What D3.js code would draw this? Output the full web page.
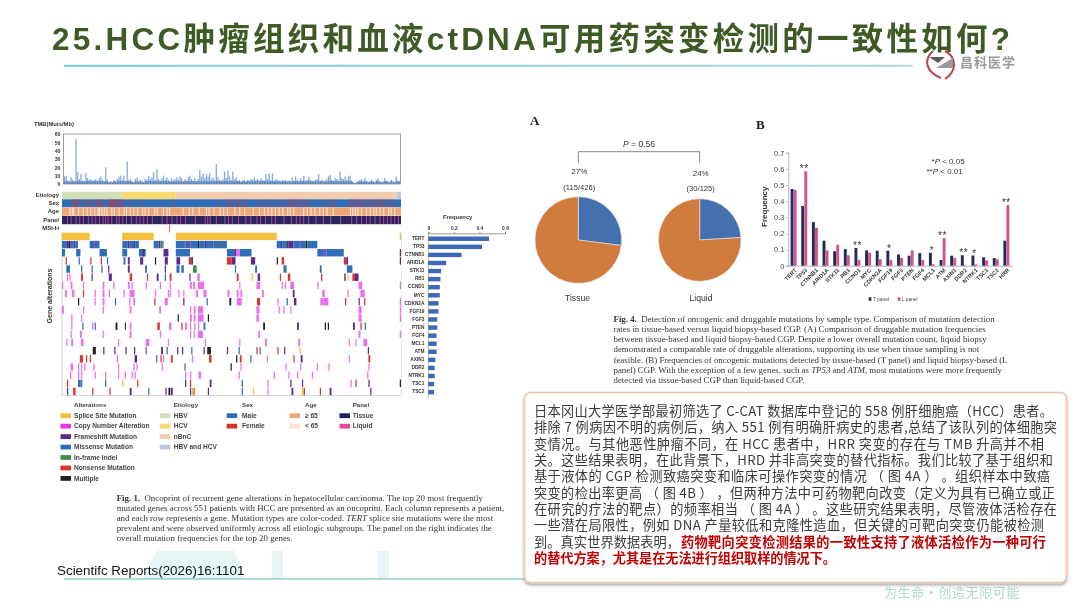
<!DOCTYPE html>
<html><head><meta charset="utf-8">
<script src="https://cdn.jsdelivr.net/npm/d3@7"></script>
<style>
html,body{margin:0;padding:0;background:#fff}
svg{display:block}
.soft{filter:blur(.45px)}
.soft2{filter:blur(.25px)}
</style></head><body>
<svg id="c" width="1080" height="608"></svg>
<script>
// ---------- text ----------
const titleText = "25.HCC肿瘤组织和血液ctDNA可用药突变检测的一致性如何?";
const logoText = "昌科医学";
const sloganText = "为生命·创造无限可能";
const citationText = "Scientifc Reports(2026)16:1101";
const fig1Caption = [
 ["Fig. 1.","  Oncoprint of recurrent gene alterations in hepatocellular carcinoma. The top 20 most frequently"],
 ["","mutated genes across 551 patients with HCC are presented as an oncoprint. Each column represents a patient,"],
 ["","and each row represents a gene. Mutation types are color-coded. TERT splice site mutations were the most"],
 ["","prevalent and were observed uniformly across all etiologic subgroups. The panel on the right indicates the"],
 ["","overall mutation frequencies for the top 20 genes."]];
const fig4Caption = [
 ["Fig. 4.","  Detection of oncogenic and druggable mutations by sample type. Comparison of mutation detection"],
 ["","rates in tissue-based versus liquid biopsy-based CGP. (A) Comparison of druggable mutation frequencies"],
 ["","between tissue-based and liquid biopsy-based CGP. Despite a lower overall mutation count, liquid biopsy"],
 ["","demonstrated a comparable rate of druggable alterations, supporting its use when tissue sampling is not"],
 ["","feasible. (B) Frequencies of oncogenic mutations detected by tissue-based (T panel) and liquid biopsy-based (L"],
 ["","panel) CGP. With the exception of a few genes, such as TP53 and ATM, most mutations were more frequently"],
 ["","detected via tissue-based CGP than liquid-based CGP."]];
const bodyLines = [
 "日本冈山大学医学部最初筛选了 C-CAT 数据库中登记的 558 例肝细胞癌（HCC）患者。",
 "排除 7 例病因不明的病例后，纳入 551 例有明确肝病史的患者,总结了该队列的体细胞突",
 "变情况。与其他恶性肿瘤不同，在 HCC 患者中，HRR 突变的存在与 TMB 升高并不相",
 "关。这些结果表明，在此背景下，HRD 并非高突变的替代指标。我们比较了基于组织和",
 "基于液体的 CGP 检测致癌突变和临床可操作突变的情况 （ 图 4A ） 。组织样本中致癌",
 "突变的检出率更高 （ 图 4B ） ，但两种方法中可药物靶向改变（定义为具有已确立或正",
 "在研究的疗法的靶点）的频率相当 （ 图 4A ） 。这些研究结果表明，尽管液体活检存在",
 "一些潜在局限性，例如 DNA 产量较低和克隆性造血，但关键的可靶向突变仍能被检测"];
const bodyLine9Plain = "到。真实世界数据表明，";
const bodyLine9Red = "药物靶向突变检测结果的一致性支持了液体活检作为一种可行";
const bodyLine10Red = "的替代方案，尤其是在无法进行组织取样的情况下。";

// ---------- oncoprint data ----------
const genes = ["TERT","TP53","CTNNB1","ARID1A","STK11","RB1","CCND1","MYC","CDKN2A","FGF19","FGF3","PTEN","FGF4","MCL1","ATM","AXIN1","DDR2","NTRK1","TSC1","TSC2"];
const geneFreq = [.475,.42,.26,.14,.1,.095,.09,.09,.08,.08,.07,.07,.065,.065,.065,.055,.05,.05,.045,.045];
const freqTicks = [0,.2,.4,.6];
const alterationNames = {S:"Splice Site Mutation",C:"Copy Number Alteration",F:"Frameshift Mutation",M:"Missense Mutation",I:"In-frame Indel",N:"Nonsense Mutation",X:"Multiple"};
const etiologyRuns = [[0,97,"HBV"],[97,88,"HCV"],[185,360,"nBnC"],[545,6,"HBV and HCV"]];
const tmbTicks = [0,10,20,30,40,50,60];
// TMB read roughly every 2.4 patients
const tmbValues = [9,10,4,3,8,5,3,54,14,6,12,4,3,13,7,5,6,4,5,6,4,7,9,5,3,20,5,2,3,2,5,3,6,9,10,5,10,4,27,5,6,3,2,6,8,3,5,3,2,6,5,9,6,8,14,5,18,6,4,7,10,5,8,5,3,7,4,6,8,5,9,7,3,6,4,8,10,6,4,7,3,6,17,9,13,7,12,9,13,6,8,5,24,8,5,4,6,15,7,16,9,5,15,6,8,4,5,3,4,5,3,5,4,6,5,8,5,6,4,7,5,4,12,6,13,5,13,4,6,5,4,3,5,4,5,3,4,3,8,4,9,5,3,7,4,10,4,5,9,5,4,3,5,6,12,4,5,3,4,6,9,11,5,4,7,6,4,15,7,6,9,5,9,10,4,2,1,2,3,5,6,3,7,4,2,3,5,3,2,5,7,3,2,3,7,4,3,2,5,3,2,9,4,3];
const femaleIdx = [16,18,22,24,28,36,40,47,52,56,60,62,66,75,78,80,82,84,86,90,92,94,98,110,128,180,255,268,272,276,284,288,292,298,320,330,340,352,360,368,372,376,380,384,390,395,402,425,436,440,468,470,474,478,482,484,490,496,502,505,510,514,516,520,526,530,536];
const ageYoungIdx = [12,16,18,26,34,40,46,52,58,60,64,68,72,80,84,92,100,104,110,116,122,130,134,140,150,154,164,170,174,196,206,212,222,234,238,246,256,262,268,280,288,296,310,320,328,334,340,346,352,358,366,370,376,392,398,404,410,418,424,430,440,468,472,476,480,486,494,500,506,510,516,522,530,534,540];
const liquidIdx = [8,14,22,28,34,42,48,54,60,66,70,74,80,88,92,98,104,112,120,126,132,138,146,162,170,178,186,192,200,216,232,236,240,250,264,270,276,286,298,306,316,322,330,340,346,360,372,380,386,392,400,412,424,436,452,470,478,486,494,500,508,516,522,528,534,540,546];
const msiIdx = [174];
// [first patient, patient count, alteration]
const rowTERT = [[0,45,"S"],[98,51,"S"],[185,164,"S"],[549,2,"S"]];
const rowTP53 = [[0,8,"M"],[8,3,"F"],[11,3,"X"],[14,5,"M"],[19,3,"F"],[22,4,"M"],[45,8,"M"],[53,2,"F"],[55,6,"M"],[98,9,"M"],[107,3,"F"],[110,7,"M"],[117,2,"F"],[119,6,"M"],[149,8,"M"],[157,3,"F"],[160,3,"I"],[163,2,"M"],[185,14,"M"],[199,2,"F"],[201,8,"M"],[209,2,"F"],[211,10,"M"],[221,2,"X"],[223,9,"M"],[232,2,"F"],[234,10,"M"],[244,2,"F"],[246,10,"M"],[256,2,"X"],[258,10,"M"],[349,7,"M"],[356,2,"F"],[358,8,"M"],[366,2,"X"],[368,8,"F"],[376,10,"M"],[386,2,"F"],[388,8,"M"],[396,3,"X"],[399,16,"M"]];
const rowCTNNB1 = [[0,5,"M"],[23,7,"M"],[61,12,"M"],[98,8,"M"],[125,11,"M"],[131,3,"F"],[165,8,"F"],[185,23,"M"],[268,12,"M"],[280,3,"F"],[283,6,"C"],[289,19,"M"],[415,15,"M"],[430,28,"M"],[425,2,"C"],[549,2,"F"]];
const rowARID1A = [[6,2,"N"],[27,2,"M"],[46,2,"N"],[63,2,"N"],[73,2,"M"],[100,3,"M"],[107,3,"F"],[127,5,"F"],[151,2,"X"],[167,5,"F"],[186,6,"F"],[206,4,"N"],[210,3,"F"],[268,8,"N"],[276,6,"F"],[307,7,"F"],[349,2,"X"],[357,4,"N"],[458,4,"N"],[462,3,"F"],[549,2,"F"]];
const rowSTK11 = [[7,6,"M"],[31,2,"M"],[48,2,"M"],[64,2,"M"],[75,2,"F"],[107,3,"F"],[135,3,"M"],[167,2,"F"],[186,5,"M"],[194,4,"M"],[213,6,"I"],[281,2,"M"],[314,3,"M"],[360,5,"M"],[419,3,"M"],[463,9,"M"]];
const rowRB1 = [[8,2,"C"],[12,2,"C"],[31,3,"N"],[48,2,"F"],[76,5,"F"],[110,4,"N"],[138,2,"N"],[154,3,"F"],[167,2,"M"],[175,3,"N"],[207,2,"F"],[220,4,"C"],[284,3,"N"],[308,2,"S"],[318,4,"F"],[354,2,"N"],[367,4,"N"],[421,2,"N"],[459,2,"X"],[464,2,"S"],[472,4,"N"],[476,6,"F"]];
const rowCCND1 = [[0,2,"C"],[14,3,"C"],[34,2,"C"],[66,3,"C"],[83,2,"C"],[107,3,"C"],[113,2,"C"],[136,2,"C"],[159,2,"C"],[175,2,"C"],[208,3,"C"],[213,3,"C"],[221,10,"C"],[288,2,"C"],[316,6,"C"],[357,2,"C"],[362,2,"C"],[371,6,"C"],[415,2,"C"],[482,6,"C"],[549,2,"C"]];
const rowMYC = [[5,3,"C"],[16,4,"C"],[34,2,"N"],[53,2,"C"],[66,3,"C"],[76,2,"C"],[100,2,"C"],[110,8,"C"],[151,2,"C"],[172,2,"C"],[175,2,"C"],[189,2,"C"],[197,2,"C"],[218,3,"C"],[230,5,"C"],[269,3,"C"],[284,3,"C"],[290,3,"C"],[325,3,"C"],[375,3,"F"],[423,4,"C"],[464,2,"C"],[485,7,"C"]];
const rowCDKN2A = [[26,2,"X"],[53,2,"C"],[66,3,"C"],[86,2,"M"],[109,2,"C"],[116,3,"C"],[150,2,"N"],[167,5,"C"],[197,2,"F"],[235,2,"M"],[272,3,"X"],[284,8,"C"],[317,5,"N"],[350,2,"C"],[365,2,"M"],[377,4,"F"],[420,5,"C"],[425,8,"C"],[460,2,"N"],[482,2,"F"],[491,2,"N"],[549,2,"C"]];
const rowFGF19 = [[0,3,"C"],[34,2,"C"],[66,2,"C"],[110,3,"C"],[158,3,"C"],[208,2,"C"],[214,3,"C"],[221,8,"C"],[316,5,"C"],[352,2,"C"],[360,2,"C"],[371,2,"C"],[482,5,"C"],[549,2,"C"]];
const rowFGF3 = [[15,2,"C"],[31,2,"C"],[188,2,"X"],[208,3,"C"],[214,3,"C"],[221,9,"C"],[237,2,"X"],[316,4,"C"],[482,5,"C"],[549,2,"C"]];
const rowPTEN = [[15,2,"C"],[33,2,"M"],[49,2,"C"],[53,2,"M"],[87,3,"X"],[102,2,"F"],[110,3,"C"],[155,4,"N"],[174,4,"C"],[194,2,"N"],[200,3,"C"],[208,2,"C"],[215,2,"C"],[221,2,"C"],[230,3,"M"],[327,3,"X"],[382,3,"F"],[427,2,"X"],[432,2,"X"],[473,3,"F"],[485,2,"N"],[492,2,"M"]];
const rowFGF4 = [[14,2,"C"],[29,3,"C"],[66,2,"C"],[110,3,"C"],[159,2,"C"],[208,2,"C"],[214,2,"C"],[221,8,"C"],[319,3,"C"],[482,3,"C"],[549,2,"C"]];
const rowMCL1 = [[7,2,"C"],[15,3,"C"],[31,4,"C"],[91,2,"C"],[136,6,"C"],[172,2,"C"],[232,2,"C"],[288,2,"C"],[330,3,"C"],[384,3,"C"],[466,2,"C"],[477,2,"C"],[490,6,"C"]];
const rowATM = [[50,5,"X"],[67,2,"F"],[85,2,"F"],[103,2,"F"],[117,2,"F"],[136,1,"F"],[161,3,"F"],[170,2,"M"],[187,2,"F"],[195,2,"F"],[210,2,"M"],[230,2,"F"],[236,6,"X"],[268,2,"F"],[287,2,"M"],[316,2,"N"],[321,2,"M"],[350,2,"N"],[361,2,"F"],[386,2,"S"],[497,2,"F"]];
const rowAXIN1 = [[29,5,"N"],[39,2,"N"],[45,2,"N"],[89,2,"C"],[118,4,"F"],[153,2,"M"],[160,2,"N"],[164,2,"C"],[177,3,"N"],[211,2,"C"],[239,4,"N"],[283,2,"X"],[289,3,"N"],[306,2,"M"],[333,2,"C"],[376,2,"N"],[388,3,"F"],[466,2,"C"],[498,3,"N"]];
const rowDDR2 = [[14,4,"C"],[26,2,"C"],[31,2,"C"],[36,2,"C"],[51,2,"C"],[91,2,"C"],[116,2,"C"],[121,2,"C"],[162,2,"C"],[199,2,"M"],[274,2,"X"],[290,2,"C"],[363,2,"C"],[387,2,"C"],[414,2,"C"],[433,2,"C"],[498,2,"C"]];
const rowNTRK1 = [[13,2,"C"],[26,2,"C"],[31,2,"C"],[53,2,"C"],[70,2,"C"],[91,2,"C"],[102,2,"C"],[113,2,"C"],[118,2,"C"],[200,2,"C"],[208,2,"C"],[222,4,"C"],[287,2,"C"],[344,2,"C"],[368,2,"C"],[382,2,"C"],[406,2,"C"],[496,2,"C"]];
const rowTSC1 = [[8,2,"N"],[26,4,"M"],[30,3,"M"],[70,2,"M"],[98,2,"S"],[122,2,"N"],[200,2,"F"],[208,2,"N"],[240,3,"F"],[292,2,"M"],[334,2,"C"],[371,2,"F"],[390,2,"F"],[469,2,"C"],[477,2,"N"],[498,2,"F"],[549,2,"X"]];
const rowTSC2 = [[8,2,"F"],[18,4,"N"],[49,2,"N"],[77,2,"N"],[110,3,"F"],[140,2,"I"],[168,2,"F"],[173,3,"X"],[177,3,"F"],[208,2,"F"],[211,3,"S"],[214,1,"N"],[237,2,"F"],[292,2,"M"],[310,2,"S"],[334,2,"C"],[373,3,"F"],[390,3,"S"],[393,2,"N"],[419,2,"N"],[435,3,"F"],[501,2,"F"]];
const geneRows = [rowTERT,rowTP53,rowCTNNB1,rowARID1A,rowSTK11,rowRB1,rowCCND1,rowMYC,rowCDKN2A,rowFGF19,rowFGF3,rowPTEN,rowFGF4,rowMCL1,rowATM,rowAXIN1,rowDDR2,rowNTRK1,rowTSC1,rowTSC2];

// ---------- pie data ----------
const pieNames = ["Tissue","Liquid"];
const piePercent = ["27%","24%"];
const pieCounts = ["(115/426)","(30/125)"];
const pieHits = [115,30];
const pieTotals = [426,125];

// ---------- bar data ----------
const barGenes = ["TERT","TP53","CTNNB1","ARID1A","STK11","RB1","CCND1","MYC","CDKN2A","FGF19","FGF3","PTEN","FGF4","MCL1","ATM","AXIN1","DDR2","NTRK1","TSC1","TSC2","HRR"];
const tPanel = [.475,.37,.27,.155,.09,.103,.11,.095,.093,.093,.07,.062,.078,.08,.035,.062,.065,.063,.052,.047,.155];
const lPanel = [.47,.585,.235,.095,.13,.065,.035,.08,.04,.035,.048,.095,.035,.008,.17,.048,.002,.008,.033,.04,.375];
const barStars = ["","**","","","","","**","","","*","","","","*","**","","**","*","","","**"];
const barTicks = [0,.1,.2,.3,.4,.5,.6,.7];

// ---------- palette ----------
const altColor = {S:"#f3bf3c",C:"#e236ea",F:"#5b2a8e",M:"#2f6eb9",I:"#3f8f50",N:"#d9352c",X:"#222222"};
const etioColor = {"HBV":"#cfe0bb","HCV":"#f8dc72","nBnC":"#f3cdb0","HBV and HCV":"#bcc5e6"};

const svg = d3.select("#c");
const SANS = "'Liberation Sans',Arial,sans-serif", SERIF = "'Liberation Serif',serif", CJK = "'Noto Sans CJK SC',sans-serif";
const txt = (g,x,y,s,size,o={}) => g.append("text").attr("x",x).attr("y",y).text(s)
  .attr("font-size",size).attr("font-family",o.f||SANS).attr("font-weight",o.w||"normal")
  .attr("fill",o.c||"#333").attr("text-anchor",o.a||"start").attr("dominant-baseline",o.b||"auto");

// ---------- backdrop ----------
const defs = svg.append("defs");
const grad = defs.append("linearGradient").attr("id","rule");
grad.append("stop").attr("offset","0").attr("stop-color","#7fcbd6");
grad.append("stop").attr("offset","1").attr("stop-color","#b4dcd8");
const sh = defs.append("filter").attr("id","shadow").attr("x","-5%").attr("y","-5%").attr("width","110%").attr("height","112%");
sh.append("feDropShadow").attr("dx",0).attr("dy",2).attr("stdDeviation",1.8).attr("flood-color","#000").attr("flood-opacity",.35);

const wm = svg.append("g").attr("fill","#e6f5f5");
wm.append("path").attr("d","M143,579L157,551H235L245,579Z");
wm.append("rect").attr("x",272).attr("y",551).attr("width",11).attr("height",28);
wm.append("rect").attr("x",378).attr("y",551).attr("width",11).attr("height",28);
svg.append("rect").attr("x",64).attr("y",578.2).attr("width",470).attr("height",1.5).attr("fill","#8fd0c8");

// ---------- title ----------
const hdr = svg.append("g").attr("class","soft");
txt(hdr,52,50,titleText,31.5,{f:"'Liberation Sans','Noto Sans CJK SC',sans-serif",w:700,c:"#3e5b26"}).attr("textLength",958).attr("lengthAdjust","spacing");
hdr.append("rect").attr("x",64).attr("y",64.7).attr("width",849).attr("height",2.2).attr("fill","url(#rule)");
const logo = hdr.append("g");
logo.append("path").attr("d","M933,51C923,60 926,72 941,78").attr("fill","none").attr("stroke","#b8454a").attr("stroke-width",2);
logo.append("path").attr("d","M945,51C958,58 956,72 945,79").attr("fill","none").attr("stroke","#b8454a").attr("stroke-width",2);
logo.append("path").attr("d","M929,57H945L938,63Z").attr("fill","#5c5c5c");
logo.append("path").attr("d","M953,58V68H936Z").attr("fill","#9a9a9a");
txt(hdr,960,67,logoText,13,{f:CJK,w:700,c:"#9a9a9a"}).attr("letter-spacing",1);

// ---------- Fig 1 top strips ----------
const fig = svg.append("g").attr("class","soft");
const opLeft = 62, opRight = 401;
const patient = d3.scaleLinear().domain([0,551]).range([opLeft,opRight]);
const tmbY = d3.scaleLinear().domain([0,60]).range([184,134]);
const tmbX = d3.scaleBand().domain(d3.range(tmbValues.length)).range([63.5,400.5]).padding(.18);
txt(fig,34,125.8,"TMB(Muts/Mb)",5.8,{w:700,c:"#333"});
fig.append("g").selectAll("rect").data(tmbValues).join("rect")
  .attr("x",(d,i)=>tmbX(i)).attr("width",tmbX.bandwidth())
  .attr("y",d=>tmbY(d)).attr("height",d=>184-tmbY(d)).attr("fill","#8aaedb");
fig.append("g").selectAll("rect").data(tmbValues).join("rect")
  .attr("x",(d,i)=>tmbX(i)).attr("width",tmbX.bandwidth())
  .attr("y",d=>tmbY(Math.min(d,3.5))).attr("height",d=>184-tmbY(Math.min(d,3.5))).attr("fill","#5a88c6");
fig.append("rect").attr("x",63.5).attr("y",134).attr("width",337).attr("height",50).attr("fill","none").attr("stroke","#777").attr("stroke-width",.7);
const tmbAxis = fig.append("g").attr("transform","translate(63.5,0)").call(d3.axisLeft(tmbY).tickValues(tmbTicks).tickSize(0).tickPadding(3));
tmbAxis.select(".domain").remove();
tmbAxis.selectAll("text").attr("font-size",5.2).attr("font-weight",700).attr("font-family",SANS).attr("fill","#333");

fig.append("g").selectAll("rect").data(etiologyRuns).join("rect")
  .attr("x",d=>patient(d[0])).attr("width",d=>patient(d[1])-opLeft).attr("y",191.8).attr("height",7.4).attr("fill",d=>etioColor[d[2]]);
fig.append("rect").attr("x",opLeft).attr("y",199.3).attr("width",opRight-opLeft).attr("height",8).attr("fill","#2f6db6");
fig.append("g").selectAll("rect").data(femaleIdx).join("rect")
  .attr("x",d=>patient(d)).attr("width",1).attr("y",199.3).attr("height",8).attr("fill","#c83640").attr("opacity",.72);
fig.append("rect").attr("x",opLeft).attr("y",207.5).attr("width",opRight-opLeft).attr("height",8.2).attr("fill","#eea878");
fig.append("g").selectAll("rect").data(ageYoungIdx).join("rect")
  .attr("x",d=>patient(d)).attr("width",1.1).attr("y",207.5).attr("height",8.2).attr("fill","#fbe6da");
fig.append("rect").attr("x",opLeft).attr("y",216).attr("width",opRight-opLeft).attr("height",8.2).attr("fill","#27275f");
fig.append("g").selectAll("rect").data(liquidIdx).join("rect")
  .attr("x",d=>patient(d)).attr("width",1).attr("y",216).attr("height",8.2).attr("fill","#e0469e").attr("opacity",.8);
fig.append("g").selectAll("rect").data(msiIdx).join("rect")
  .attr("x",d=>patient(d)).attr("width",.8).attr("y",224.4).attr("height",8).attr("fill","#d9352c");
[["Etiology",195.5],["Sex",203.6],["Age",211.6],["Panel",220],["MSI-H",228.3]].forEach(d=>
  txt(fig,59,d[1],d[0],5.9,{w:700,a:"end",b:"middle",c:"#333"}));

// ---------- oncoprint ----------
const rowY = d3.scaleBand().domain(genes).range([232.4,395.5]).paddingInner(.02);
fig.append("line").attr("x1",opLeft).attr("x2",opLeft).attr("y1",232).attr("y2",395.5).attr("stroke","#ccc").attr("stroke-width",.8);
fig.append("line").attr("x1",opLeft).attr("x2",opRight).attr("y1",395.5).attr("y2",395.5).attr("stroke","#ccc").attr("stroke-width",.8);
fig.append("line").attr("x1",opRight+.5).attr("x2",opRight+.5).attr("y1",232).attr("y2",395.5).attr("stroke","#e2e2e2").attr("stroke-width",.8);
geneRows.forEach((row,i)=>{
  fig.append("g").selectAll("rect").data(row).join("rect")
    .attr("x",d=>patient(d[0])).attr("width",d=>Math.max(1,patient(d[1])-opLeft))
    .attr("y",rowY(genes[i])+.3).attr("height",rowY.bandwidth()-.6)
    .attr("fill",d=>altColor[d[2]]).attr("opacity",d=>d[2]==="C"?.72:1);
});
txt(fig,0,0,"Gene alterations",7,{w:700,a:"middle",c:"#333"}).attr("transform","translate(51.5,296) rotate(-90)");

// ---------- frequency panel ----------
const fx = d3.scaleLinear().domain([0,.6]).range([428.3,505]);
const fy = d3.scaleBand().domain(genes).range([232.9,398]).padding(.45);
txt(fig,457.7,218.5,"Frequency",5.8,{w:700,a:"middle"});
const fAxis = fig.append("g").attr("transform","translate(0,233.3)").call(d3.axisTop(fx).tickValues(freqTicks).tickFormat(d=>d).tickSize(1.5).tickPadding(2));
fAxis.selectAll("text").attr("font-size",4.9).attr("font-weight",700).attr("font-family",SANS).attr("fill","#333");
fAxis.selectAll("line,path").attr("stroke","#555").attr("stroke-width",.6);
fig.append("g").selectAll("rect").data(genes).join("rect")
  .attr("x",fx(0)).attr("y",d=>fy(d)).attr("height",fy.bandwidth()).attr("width",(d,i)=>fx(geneFreq[i])-fx(0)).attr("fill","#3f68b8");
fig.append("line").attr("x1",fx(0)).attr("x2",fx(0)).attr("y1",233.3).attr("y2",398).attr("stroke","#666").attr("stroke-width",.5);
fig.append("g").selectAll("text").data(genes).join("text").attr("x",424.5).attr("y",d=>fy(d)+fy.bandwidth()/2)
  .text(d=>d).attr("text-anchor","end").attr("dominant-baseline","middle").attr("font-size",4.8).attr("font-weight",700).attr("font-family",SANS).attr("fill","#333");

// ---------- legends ----------
const lg = (x0,tx,title,items) => {
  txt(fig,tx,407.2,title,6.2,{w:700,c:"#444"});
  items.forEach((it,i)=>{
    const y = 415.7+i*10.45;
    fig.append("rect").attr("x",x0).attr("y",y-2.4).attr("width",10.5).attr("height",4.8).attr("fill",it[1]);
    txt(fig,tx,y+2.2,it[0],6.6,{w:700,c:"#444"});
  });
};
lg(60.5,74,"Alterations",["S","C","F","M","I","N","X"].map(k=>[alterationNames[k],altColor[k]]));
lg(159.7,173.7,"Etiology",Object.keys(etioColor).map(k=>[k,etioColor[k]]));
lg(226.7,242,"Sex",[["Male","#2f6db6"],["Female","#d2322c"]]);
lg(289.5,305,"Age",[["≥ 65","#eea878"],["< 65","#f8e1d6"]]);
lg(339.5,352.7,"Panel",[["Tissue","#1f1f66"],["Liquid","#e8479d"]]);

// captions
const caption = (x,y0,lh,size,lines,ital) => lines.forEach((l,i)=>{
  const t = fig.append("text").attr("x",x).attr("y",y0+i*lh).attr("font-family",SERIF).attr("font-size",size).attr("fill","#333").style("white-space","pre");
  if(l[0]) t.append("tspan").attr("font-weight",700).text(l[0]);
  l[1].split(new RegExp("\\b("+ital.join("|")+")\\b")).forEach(p=>t.append("tspan").text(p).attr("font-style",ital.includes(p)?"italic":"normal"));
});
caption(116.7,500.5,10,8.85,fig1Caption,["TERT"]);
caption(613.5,321.5,10.3,8.85,fig4Caption,["TP53","ATM"]);

// ---------- Panel A pies ----------
const panelA = svg.append("g").attr("class","soft2");
txt(panelA,530,125,"A",13,{f:SERIF,w:700,c:"#222"});
txt(panelA,639,147,"",8.5,{a:"middle"}).call(t=>{t.append("tspan").attr("font-style","italic").text("P");t.append("tspan").text(" = 0.56");});
const pieCx = d3.scaleOrdinal().domain(pieNames).range([578.3,699.7]);
const pieR = d3.scaleOrdinal().domain(pieNames).range([43.3,41.3]);
panelA.append("path").attr("d",`M${pieCx("Tissue")},163V151.7H${pieCx("Liquid")}V163`).attr("fill","none").attr("stroke","#555").attr("stroke-width",.7);
const pieGen = d3.pie().sort(null);
pieNames.forEach((n,i)=>{
  const g = panelA.append("g").attr("transform",`translate(${pieCx(n)},240)`);
  g.selectAll("path").data(pieGen([pieHits[i],pieTotals[i]-pieHits[i]])).join("path")
    .attr("d",d3.arc().innerRadius(0).outerRadius(pieR(n)))
    .attr("fill",(d,j)=>j?"#d07c3f":"#4470af").attr("stroke","#e8e8e8").attr("stroke-width",.6);
  txt(panelA,pieCx(n)+1,[174,176][i],piePercent[i],8,{a:"middle"});
  txt(panelA,pieCx(n)+1,[189.5,191][i],pieCounts[i],7.6,{a:"middle"});
  txt(panelA,[577.5,701][i],301,n,8.6,{a:"middle"});
});

// ---------- Panel B bars ----------
const panelB = svg.append("g").attr("class","soft2");
txt(panelB,756,129,"B",13,{f:SERIF,w:700,c:"#222"});
const bx = d3.scaleBand().domain(barGenes).range([788.3,1011.7]);
const by = d3.scaleLinear().domain([0,.7]).range([265.7,152.7]);
const inner = d3.scaleBand().domain(["T","L"]).range([bx.bandwidth()*.22,bx.bandwidth()*.78]).paddingInner(.05);
const bAxY = panelB.append("g").attr("transform","translate(788.3,0)").call(d3.axisLeft(by).tickValues(barTicks).tickFormat(d=>d).tickSize(2).tickPadding(2));
bAxY.selectAll("text").attr("font-size",7.4).attr("font-family",SANS).attr("fill","#444");
bAxY.selectAll("line,path").attr("stroke","#999").attr("stroke-width",.7);
const bAxX = panelB.append("g").attr("transform","translate(0,265.7)").call(d3.axisBottom(bx).tickSize(1.5).tickPadding(1.5));
bAxX.selectAll("line,path").attr("stroke","#999").attr("stroke-width",.7);
bAxX.selectAll("text").attr("font-size",5.6).attr("font-weight",700).attr("font-family",SANS).attr("fill","#333")
  .attr("text-anchor","end").attr("dx","-1").attr("dy","3").attr("transform","rotate(-45)");
panelB.append("g").selectAll("rect").data(barGenes).join("rect")
  .attr("x",d=>bx(d)+inner("T")).attr("width",inner.bandwidth()).attr("y",(d,i)=>by(tPanel[i])).attr("height",(d,i)=>by(0)-by(tPanel[i])).attr("fill","#232b5c");
panelB.append("g").selectAll("rect").data(barGenes).join("rect")
  .attr("x",d=>bx(d)+inner("L")).attr("width",inner.bandwidth()).attr("y",(d,i)=>by(lPanel[i])).attr("height",(d,i)=>by(0)-by(lPanel[i])).attr("fill","#d2528f");
panelB.append("g").selectAll("text").data(barGenes).join("text")
  .attr("x",d=>bx(d)+bx.bandwidth()/2).attr("y",(d,i)=>by(Math.max(tPanel[i],lPanel[i]))-1).text((d,i)=>barStars[i])
  .attr("text-anchor","middle").attr("font-size",10).attr("font-family",SANS).attr("fill","#333").attr("letter-spacing",.6)
  .attr("dy",2);
txt(panelB,0,0,"Frequency",8,{w:700,a:"middle",c:"#333"}).attr("transform","translate(767,206.7) rotate(-90)");
const pLab = (x,y,star)=>{const t=txt(panelB,x,y,"",8,{});t.append("tspan").text(star);t.append("tspan").attr("font-style","italic").text("P");t.append("tspan").text(" < "+(star==="*"?"0.05":"0.01"));};
pLab(931.5,164,"*");pLab(926.5,174.3,"**");
panelB.append("rect").attr("x",868.7).attr("y",297.3).attr("width",2.7).attr("height",3.5).attr("fill","#232b5c");
txt(panelB,873,300.9,"T panel",4.8,{c:"#444"});
panelB.append("rect").attr("x",897.7).attr("y",297.3).attr("width",2.7).attr("height",3.5).attr("fill","#d2528f");
txt(panelB,902,300.9,"L panel",4.8,{c:"#444"});

// ---------- text box ----------
svg.append("rect").attr("x",524.5).attr("y",392.5).attr("width",542).attr("height",190).attr("rx",6)
  .attr("fill","#fff").attr("stroke","#f2c6a3").attr("stroke-width",1.6).attr("filter","url(#shadow)");
const box = svg.append("g");
const bodyY = d3.scalePoint().domain(d3.range(10)).range([416,563]);
const lineRight = [1053,1057,1044,1053,1050,1055,1057,1044,1046];
bodyLines.forEach((s,i)=> txt(box,534,bodyY(i),s,13.2,{f:CJK,c:"#3a3a3a"}).attr("textLength",lineRight[i]-534).attr("lengthAdjust","spacing"));
txt(box,534,bodyY(8),bodyLine9Plain,13.2,{f:CJK,c:"#3a3a3a"}).attr("textLength",146);
txt(box,681,bodyY(8),bodyLine9Red,13.2,{f:CJK,w:700,c:"#c00000"}).attr("textLength",365);
txt(box,534,bodyY(9),bodyLine10Red,13.2,{f:CJK,w:700,c:"#c00000"}).attr("textLength",302);

// ---------- footer ----------
txt(svg,57,574.5,citationText,13.4,{c:"#111"});
txt(svg,884,597,sloganText,13,{f:CJK,c:"#a9d8cc"}).attr("letter-spacing",.6);
</script>
</body></html>
